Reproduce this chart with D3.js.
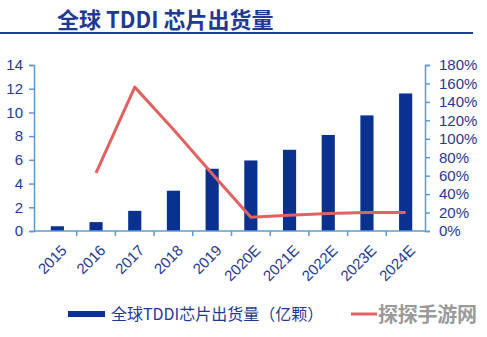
<!DOCTYPE html>
<html>
<head>
<meta charset="utf-8">
<script src="https://cdn.jsdelivr.net/npm/d3@7"></script>
<style>
  body { margin: 0; background: #fff; }
  svg { display: block; }
  text { font-family: "Liberation Sans", Arial, sans-serif; }
  .cjk { font-family: "Noto Sans CJK SC", sans-serif; }
</style>
</head>
<body>
<div id="chart"></div>
<script>
const years = ["2015", "2016", "2017", "2018", "2019", "2020E", "2021E", "2022E", "2023E", "2024E"];
const shipments = [0.4, 0.75, 1.7, 3.4, 5.25, 5.95, 6.85, 8.1, 9.75, 11.6]; // 亿颗
const growth = [null, 63, 156, 110, 62, 15, 17, 19, 20, 20]; // %
const leftTicks = [0, 2, 4, 6, 8, 10, 12, 14];
const rightTicks = [0, 20, 40, 60, 80, 100, 120, 140, 160, 180];

const width = 487, height = 337;
const axisColor = "#5b9bd5", labelColor = "#1f3a93", barColor = "#0a318f", lineColor = "#e06262";

const svg = d3.select("#chart").append("svg")
    .attr("width", width)
    .attr("height", height);

// title + rule
svg.append("text")
    .attr("class", "cjk")
    .attr("x", 57)
    .attr("y", 28)
    .attr("fill", labelColor)
    .attr("font-size", 22)
    .attr("font-weight", "bold")
    .text("全球 TDDI 芯片出货量");

svg.append("line")
    .attr("x1", 0).attr("x2", 473)
    .attr("y1", 33).attr("y2", 33)
    .attr("stroke", "#1a3d8f")
    .attr("stroke-width", 2);

const x = d3.scaleBand()
    .domain(years)
    .range([38, 425])
    .paddingInner(0.66)
    .paddingOuter(0.33);

const yL = d3.scaleLinear().domain([0, 14]).range([231, 65]);
const yR = d3.scaleLinear().domain([0, 180]).range([231, 65]);

// bars
svg.append("g")
    .attr("fill", barColor)
  .selectAll("rect")
  .data(shipments)
  .join("rect")
    .attr("x", (d, i) => x(years[i]))
    .attr("y", d => yL(d))
    .attr("width", x.bandwidth())
    .attr("height", d => yL(0) - yL(d));

// growth line
const line = d3.line()
    .defined(d => d[1] != null)
    .x(d => x(d[0]) + x.bandwidth() / 2)
    .y(d => yR(d[1]));

svg.append("path")
    .datum(years.map((y, i) => [y, growth[i]]))
    .attr("fill", "none")
    .attr("stroke", lineColor)
    .attr("stroke-width", 3)
    .attr("stroke-linejoin", "round")
    .attr("d", line);

// left axis
svg.append("g")
    .attr("transform", "translate(34,0)")
    .call(d3.axisLeft(yL).tickValues(leftTicks).tickSize(5).tickPadding(6))
    .call(g => g.selectAll("line, path").attr("stroke", axisColor).attr("stroke-width", 1.5))
    .call(g => g.selectAll("text").attr("fill", labelColor).attr("font-size", 15));

// right axis
svg.append("g")
    .attr("transform", "translate(425,0)")
    .call(d3.axisRight(yR).tickValues(rightTicks).tickFormat(d => d + "%").tickSize(5).tickPadding(9))
    .call(g => g.selectAll("line, path").attr("stroke", axisColor).attr("stroke-width", 1.5))
    .call(g => g.selectAll("text").attr("fill", labelColor).attr("font-size", 15));

// bottom axis: ticks at category boundaries
const bounds = years.slice(1).map(y => x(y) - x.step() * x.paddingInner() / 2);
svg.append("line")
    .attr("x1", 34).attr("x2", 425)
    .attr("y1", yL(0)).attr("y2", yL(0))
    .attr("stroke", axisColor).attr("stroke-width", 1.5);

svg.append("g")
  .selectAll("line")
  .data(bounds)
  .join("line")
    .attr("x1", d => d).attr("x2", d => d)
    .attr("y1", yL(0)).attr("y2", yL(0) + 5)
    .attr("stroke", axisColor).attr("stroke-width", 1.5);

svg.append("g")
  .selectAll("text")
  .data(years)
  .join("text")
    .attr("transform", d => `translate(${x(d) + x.bandwidth() / 2 + 3},${yL(0) + 13}) rotate(-45)`)
    .attr("text-anchor", "end")
    .attr("dy", "0.7em")
    .attr("fill", labelColor)
    .attr("font-size", 15)
    .text(d => d);

// legend
svg.append("rect")
    .attr("x", 68).attr("y", 311)
    .attr("width", 37).attr("height", 6)
    .attr("fill", barColor);

svg.append("text")
    .attr("class", "cjk")
    .attr("x", 111).attr("y", 320)
    .attr("fill", labelColor)
    .attr("font-size", 16)
    .text("全球TDDI芯片出货量（亿颗）");

svg.append("line")
    .attr("x1", 351).attr("x2", 377)
    .attr("y1", 314).attr("y2", 314)
    .attr("stroke", lineColor)
    .attr("stroke-width", 3);

// watermark over the second legend label
svg.append("text")
    .attr("class", "cjk")
    .attr("x", 378).attr("y", 322)
    .attr("fill", "#9a9a9a")
    .attr("font-size", 20)
    .attr("font-weight", "bold")
    .attr("textLength", 99)
    .text("探探手游网");
</script>
</body>
</html>
